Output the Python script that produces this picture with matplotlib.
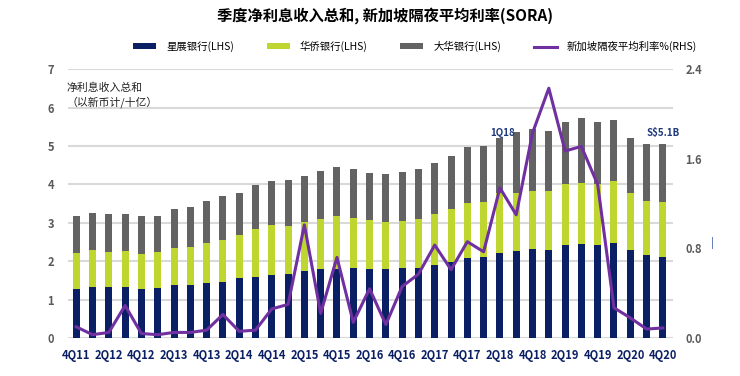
import numpy as np
import matplotlib
matplotlib.use("Agg")
import matplotlib.pyplot as plt

plt.rcParams['font.family'] = ['Noto Sans CJK SC', 'DejaVu Sans']

# 季度 4Q11 - 4Q20
quarters = []
for yr in range(11, 21):
    for q in range(1, 5):
        if yr == 11 and q < 4:
            continue
        quarters.append(f"{q}Q{yr}")

# 各银行净利息收入（十亿新币）
dbs = [1.28, 1.33, 1.32, 1.33, 1.28, 1.31, 1.38, 1.39, 1.44, 1.47, 1.55, 1.59, 1.65,
       1.67, 1.75, 1.81, 1.81, 1.82, 1.81, 1.80, 1.82, 1.82, 1.89, 1.97, 2.09, 2.11,
       2.22, 2.26, 2.32, 2.30, 2.41, 2.45, 2.41, 2.48, 2.28, 2.16, 2.10]
ocbc = [0.94, 0.95, 0.93, 0.93, 0.91, 0.92, 0.96, 0.98, 1.04, 1.08, 1.12, 1.25, 1.28,
        1.25, 1.27, 1.30, 1.38, 1.31, 1.27, 1.23, 1.24, 1.28, 1.34, 1.38, 1.42, 1.43,
        1.55, 1.51, 1.51, 1.53, 1.60, 1.58, 1.60, 1.60, 1.49, 1.41, 1.43]
uob = [0.95, 0.98, 0.97, 0.98, 0.99, 0.96, 1.01, 1.04, 1.09, 1.14, 1.11, 1.15, 1.16,
       1.20, 1.21, 1.24, 1.26, 1.27, 1.21, 1.23, 1.27, 1.30, 1.34, 1.40, 1.46, 1.46,
       1.43, 1.60, 1.61, 1.57, 1.62, 1.69, 1.62, 1.59, 1.45, 1.48, 1.52]
# 新加坡隔夜平均利率 %
sora = [0.10, 0.03, 0.05, 0.29, 0.04, 0.03, 0.05, 0.05, 0.07, 0.21, 0.06, 0.07, 0.26,
        0.30, 1.01, 0.22, 0.72, 0.14, 0.44, 0.12, 0.46, 0.57, 0.83, 0.61, 0.86, 0.77,
        1.34, 1.10, 1.83, 2.23, 1.67, 1.71, 1.37, 0.27, 0.18, 0.08, 0.09]

navy = '#0b1f65'
green = '#bfd630'
grey = '#636363'
purple = '#7030a0'
ticks_grey = '#5a5a5a'

x = np.arange(len(quarters))
dbs = np.array(dbs)
ocbc = np.array(ocbc)
uob = np.array(uob)

fig = plt.figure(figsize=(7.4, 3.76), dpi=100)
ax = fig.add_axes([0.092, 0.101, 0.817, 0.715])

b1 = ax.bar(x, dbs, width=0.43, color=navy, label='星展银行(LHS)', zorder=2)
b2 = ax.bar(x, ocbc, width=0.43, bottom=dbs, color=green, label='华侨银行(LHS)', zorder=2)
b3 = ax.bar(x, uob, width=0.43, bottom=dbs + ocbc, color=grey, label='大华银行(LHS)', zorder=2)

ax.set_ylim(0, 7)
ax.set_xlim(-0.5, 36.6)
ax.set_yticks(range(0, 8))
ax.yaxis.grid(True, color='#d9d9d9', linewidth=1.5, zorder=0)
ax.set_axisbelow(True)
for s in ax.spines.values():
    s.set_visible(False)
ax.tick_params(axis='y', length=0, pad=10, labelsize=8, labelcolor=ticks_grey)
ax.tick_params(axis='x', length=0, pad=8, labelsize=8, labelcolor=navy)
ax.set_xticks(x[::2])
ax.set_xticklabels(quarters[::2], fontweight='bold')
for t in ax.get_yticklabels():
    t.set_fontweight('bold')

ax2 = ax.twinx()
l1, = ax2.plot(x, sora, color=purple, linewidth=2.2, label='新加坡隔夜平均利率%(RHS)', zorder=3)
ax2.set_ylim(0, 2.4)
ax2.set_yticks([0.0, 0.8, 1.6, 2.4])
ax2.set_yticklabels(['0.0', '0.8', '1.6', '2.4'])
for s in ax2.spines.values():
    s.set_visible(False)
ax2.tick_params(axis='y', length=0, pad=9, labelsize=8, labelcolor=ticks_grey)
for t in ax2.get_yticklabels():
    t.set_fontweight('bold')

ax.text(-0.6, 6.65, '净利息收入总和\n（以新币计/十亿）', fontsize=7.8, va='top', ha='left',
        linespacing=1.3, color='#222222')
ax.text(26.2, 5.34, '1Q18', fontsize=7, color='#1f3a7a', fontweight='bold', ha='center', va='center')
ax.text(36.0, 5.34, 'S$5.1B', fontsize=7, color='#1f3a7a', fontweight='bold', ha='center', va='center')

fig.text(0.52, 0.96, '季度净利息收入总和, 新加坡隔夜平均利率(SORA)', fontsize=11,
         fontweight='bold', ha='center', va='center')
fig.text(0.962, 0.353, '|', fontsize=8, color='#3a56a8', ha='center', va='center')

fig.legend(handles=[b1, b2, b3, l1], loc='center', bbox_to_anchor=(0.561, 0.876),
           ncol=4, frameon=False, fontsize=7.5, handlelength=2.2, handleheight=0.5,
           columnspacing=3.1, handletextpad=1.0)

fig.savefig('out.png', dpi=100)
